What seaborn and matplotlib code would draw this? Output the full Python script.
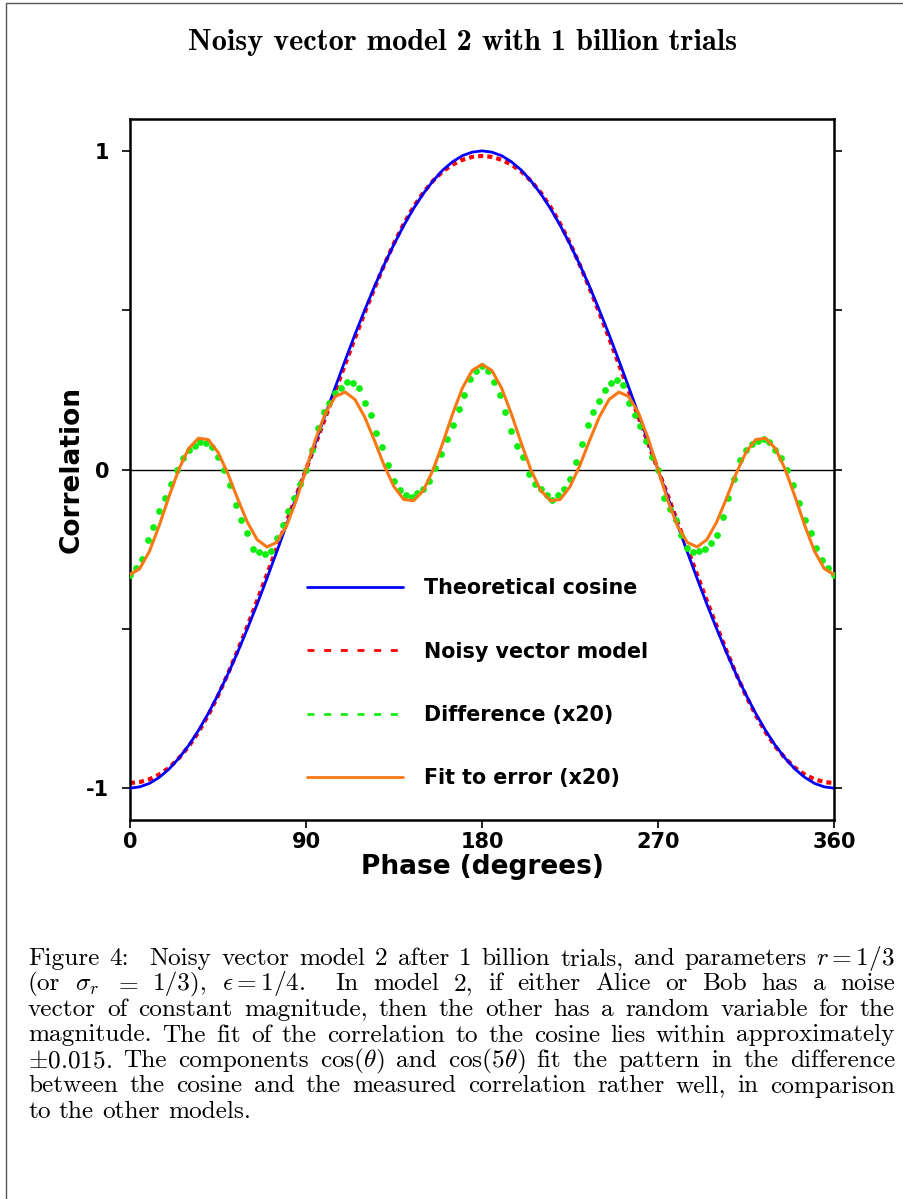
import numpy as np
import pandas as pd
import seaborn as sns
import matplotlib.pyplot as plt
from matplotlib.lines import Line2D

# data
deg5 = np.arange(0, 361, 5)
deg3 = np.arange(0, 361, 3)

cosine = [-1.000, -0.996, -0.985, -0.966, -0.940, -0.906, -0.866, -0.819, -0.766, -0.707,
          -0.643, -0.574, -0.500, -0.423, -0.342, -0.259, -0.174, -0.087, 0.000, 0.087,
          0.174, 0.259, 0.342, 0.423, 0.500, 0.574, 0.643, 0.707, 0.766, 0.819,
          0.866, 0.906, 0.940, 0.966, 0.985, 0.996, 1.000,
          0.996, 0.985, 0.966, 0.940, 0.906, 0.866, 0.819, 0.766, 0.707, 0.643,
          0.574, 0.500, 0.423, 0.342, 0.259, 0.174, 0.087, 0.000, -0.087, -0.174,
          -0.259, -0.342, -0.423, -0.500, -0.574, -0.643, -0.707, -0.766, -0.819, -0.866,
          -0.906, -0.940, -0.966, -0.985, -0.996, -1.000]

noisy = [-0.984, -0.981, -0.972, -0.957, -0.936, -0.906, -0.869, -0.824, -0.771, -0.710,
         -0.642, -0.569, -0.492, -0.412, -0.330, -0.247, -0.165, -0.082, 0.000, 0.082,
         0.165, 0.247, 0.330, 0.412, 0.492, 0.569, 0.642, 0.710, 0.771, 0.824,
         0.869, 0.906, 0.936, 0.957, 0.972, 0.981, 0.984,
         0.981, 0.972, 0.957, 0.936, 0.906, 0.869, 0.824, 0.771, 0.710, 0.642,
         0.569, 0.492, 0.412, 0.330, 0.247, 0.165, 0.082, 0.000, -0.082, -0.165,
         -0.247, -0.330, -0.412, -0.492, -0.569, -0.642, -0.710, -0.771, -0.824, -0.869,
         -0.906, -0.936, -0.957, -0.972, -0.981, -0.984]

fit = [-0.330, -0.311, -0.256, -0.175, -0.084, 0.001, 0.066, 0.098, 0.094, 0.054,
       -0.012, -0.091, -0.165, -0.220, -0.243, -0.229, -0.178, -0.097, 0.000, 0.097,
       0.178, 0.229, 0.243, 0.220, 0.165, 0.091, 0.012, -0.054, -0.094, -0.098,
       -0.066, -0.001, 0.084, 0.175, 0.256, 0.311, 0.330,
       0.311, 0.256, 0.175, 0.084, -0.001, -0.066, -0.098, -0.094, -0.054, 0.012,
       0.091, 0.165, 0.220, 0.243, 0.229, 0.178, 0.097, 0.000, -0.097, -0.178,
       -0.229, -0.243, -0.220, -0.165, -0.091, -0.012, 0.054, 0.094, 0.098, 0.066,
       0.001, -0.084, -0.175, -0.256, -0.311, -0.330]

diff = [-0.330, -0.310, -0.280, -0.220, -0.180, -0.130, -0.090, -0.045, 0.000, 0.035,
        0.060, 0.075, 0.085, 0.083, 0.070, 0.040, 0.000, -0.050, -0.110, -0.160,
        -0.200, -0.250, -0.260, -0.265, -0.255, -0.215, -0.175, -0.130, -0.090, -0.045,
        0.000, 0.060, 0.130, 0.180, 0.210, 0.240, 0.255, 0.275, 0.270, 0.255,
        0.210, 0.170, 0.115, 0.070, 0.015, -0.035, -0.065, -0.080, -0.085, -0.075,
        -0.060, -0.035, 0.005, 0.050, 0.095, 0.140, 0.190, 0.235, 0.285, 0.310,
        0.325, 0.310, 0.275, 0.235, 0.180, 0.120, 0.075, 0.040, -0.015, -0.045,
        -0.060, -0.080, -0.095, -0.080, -0.060, -0.030, 0.025, 0.080, 0.140, 0.180,
        0.215, 0.250, 0.270, 0.280, 0.265, 0.210, 0.170, 0.135, 0.090, 0.040,
        0.000, -0.090, -0.125, -0.160, -0.205, -0.245, -0.260, -0.255, -0.250, -0.230,
        -0.205, -0.150, -0.090, -0.030, 0.030, 0.060, 0.080, 0.090, 0.095, 0.085,
        0.060, 0.035, 0.000, -0.050, -0.105, -0.160, -0.200, -0.245, -0.285, -0.310,
        -0.330]

labels = ['Theoretical cosine', 'Noisy vector model', 'Difference (x20)', 'Fit to error (x20)']
xticks = [0, 90, 180, 270, 360]
yticks = [-1, -0.5, 0, 0.5, 1]
yticklabels = ['-1', '', '0', '', '1']

title = 'Noisy vector model 2 with 1 billion trials'
caption = [
    r'Figure 4:  Noisy vector model 2 after 1 billion trials, and parameters $r=1/3$',
    r'(or $\sigma_r$ $=$ 1/3), $\epsilon=1/4$.  In model 2, if either Alice or Bob has a noise',
    r'vector of constant magnitude, then the other has a random variable for the',
    r'magnitude. The fit of the correlation to the cosine lies within approximately',
    r'$\pm$0.015. The components cos($\theta$) and cos(5$\theta$) fit the pattern in the difference',
    r'between the cosine and the measured correlation rather well, in comparison',
    r'to the other models.',
]

sns.set_theme(style='ticks')
plt.rcParams['font.family'] = ['DejaVu Sans']
plt.rcParams['mathtext.fontset'] = 'cm'
for k in ['text.color', 'axes.labelcolor', 'xtick.color', 'ytick.color', 'axes.edgecolor']:
    plt.rcParams[k] = 'black'

W, H = 904, 1199
fig = plt.figure(figsize=(W / 100, H / 100), dpi=100)
ax = fig.add_axes([130 / W, 1 - 820 / H, 704 / W, 701 / H])

ax.axhline(0, color='black', lw=1.0, zorder=1)
sns.lineplot(x=deg5, y=noisy, ax=ax, color='#ff0000', lw=3.0,
             linestyle=(0, (1.2, 1.0)), zorder=2)
sns.lineplot(x=deg5, y=cosine, ax=ax, color='#0000ff', lw=2.0, zorder=3)
sns.scatterplot(x=deg3, y=diff, ax=ax, color='#11ee11', s=24, linewidth=0, zorder=4)
sns.lineplot(x=deg5, y=fit, ax=ax, color='#fa7814', lw=2.2, zorder=5)

ax.set_xlim(0, 360)
ax.set_ylim(-1.1, 1.1)
ax.set_xticks(xticks)
ax.set_xticklabels([str(t) for t in xticks], fontsize=15, fontweight='bold')
ax.set_yticks(yticks)
ax.set_yticklabels(yticklabels, fontsize=15, fontweight='bold')
ax.tick_params(axis='y', direction='out', length=6, width=1.2, right=True, pad=9)
ax.tick_params(axis='x', direction='out', length=6, width=1.2, pad=3)
for s in ax.spines.values():
    s.set_linewidth(1.8)
    s.set_color('black')
ax.set_xlabel('Phase (degrees)', fontsize=19, fontweight='bold', labelpad=1)
ax.set_ylabel('Correlation', fontsize=19, fontweight='bold', labelpad=1)

handles = [
    Line2D([], [], color='#0000ff', lw=2),
    Line2D([], [], color='#ff0000', lw=2, linestyle=(0, (2.5, 3.5))),
    Line2D([], [], color='#11ee11', lw=2, linestyle=(0, (2.5, 3.5))),
    Line2D([], [], color='#fa7814', lw=2),
]
ax.legend(handles, labels, loc='center', bbox_to_anchor=(0.494, 0.195), frameon=False,
          prop={'weight': 'bold', 'size': 14.9}, handlelength=4.64, handletextpad=1.0,
          labelspacing=2.09)

fig.text(463 / W, 1 - 42 / H, title, family='cmb10', fontsize=21.8, ha='center', va='center')

# frame edges of the page crop
fig.add_artist(Line2D([6 / W, 6 / W], [0, 1 - 3 / H], color='#555555', lw=1.0))
fig.add_artist(Line2D([6 / W, 1], [1 - 3 / H, 1 - 3 / H], color='#555555', lw=1.0))

# justified caption (a double space gives a double gap)
renderer = fig.canvas.get_renderer()
left, right = 28, 895
base0, dy = 965, 25.5
fs = 18.2
for i, line in enumerate(caption):
    words = line.split(' ')
    y = 1 - (base0 + i * dy) / H
    texts = [fig.text(0, y, w, family='cmr10', fontsize=fs, va='baseline') for w in words]
    widths = [t.get_window_extent(renderer).width if w else 0 for t, w in zip(texts, words)]
    if i < len(caption) - 1:
        gap = (right - left - sum(widths)) / (len(words) - 1)
    else:
        gap = fs * 0.333 * 100 / 72
    x = left
    for t, w in zip(texts, widths):
        t.set_x(x / W)
        x += w + gap

fig.savefig('out.png', dpi=100)
